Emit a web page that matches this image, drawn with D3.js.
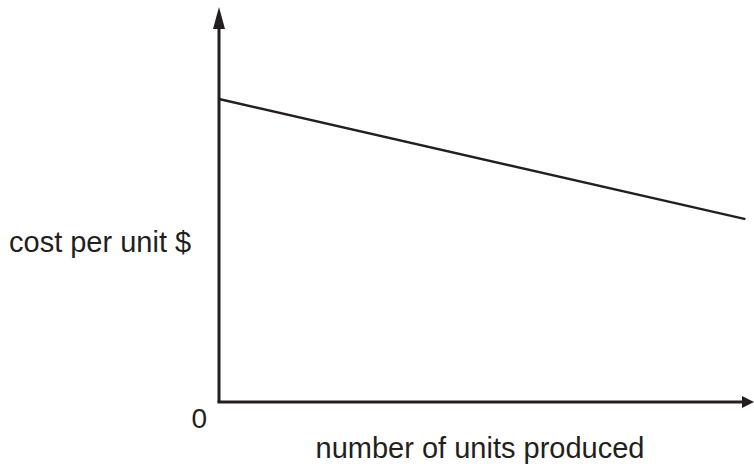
<!DOCTYPE html>
<html>
<head>
<meta charset="utf-8">
<script src="https://cdn.jsdelivr.net/npm/d3@7"></script>
<style>
body { margin: 0; background: #fff; }
text { font-family: "Liberation Sans", Arial, sans-serif; fill: #231f20; }
</style>
</head>
<body>
<script>
var width = 754, height = 466;

// data (arbitrary 0-100 units, no ticks shown)
var units = [0, 98.4];
var cost = [76.7, 46.3];
var xLabel = "number of units produced";
var yLabel = "cost per unit $";
var originLabel = "0";

var svg = d3.select("body").append("svg")
  .attr("width", width)
  .attr("height", height);

var x = d3.scaleLinear().domain([0, 100]).range([219, 754]);
var y = d3.scaleLinear().domain([0, 100]).range([402, 7]);

var ink = "#231f20";

// axes
svg.append("line")
  .attr("x1", x(0)).attr("y1", y(0))
  .attr("x2", x(0)).attr("y2", y(100) + 20)
  .attr("stroke", ink).attr("stroke-width", 3);
svg.append("line")
  .attr("x1", x(0) - 1.5).attr("y1", y(0))
  .attr("x2", x(100) - 12).attr("y2", y(0))
  .attr("stroke", ink).attr("stroke-width", 3);

// arrow heads
svg.append("path")
  .attr("d", "M" + x(0) + "," + y(100) + " L" + (x(0) + 6) + "," + (y(100) + 22) +
    " L" + (x(0) - 6) + "," + (y(100) + 22) + "Z")
  .attr("fill", ink);
svg.append("path")
  .attr("d", "M" + x(100) + "," + y(0) + " L" + (x(100) - 12) + "," + (y(0) - 6) +
    " L" + (x(100) - 12) + "," + (y(0) + 6) + "Z")
  .attr("fill", ink);

// cost line
var line = d3.line()
  .x(function(d, i) { return x(units[i]); })
  .y(function(d) { return y(d); });
svg.append("path")
  .datum(cost)
  .attr("d", line)
  .attr("fill", "none")
  .attr("stroke", ink)
  .attr("stroke-width", 2.5);

// labels
svg.append("text")
  .attr("x", 9).attr("y", 252)
  .style("font-size", "29px")
  .text(yLabel);
svg.append("text")
  .attr("x", 207).attr("y", 428)
  .attr("text-anchor", "end")
  .style("font-size", "28px")
  .text(originLabel);
svg.append("text")
  .attr("x", 480).attr("y", 458)
  .attr("text-anchor", "middle")
  .style("font-size", "29px")
  .text(xLabel);
</script>
</body>
</html>
